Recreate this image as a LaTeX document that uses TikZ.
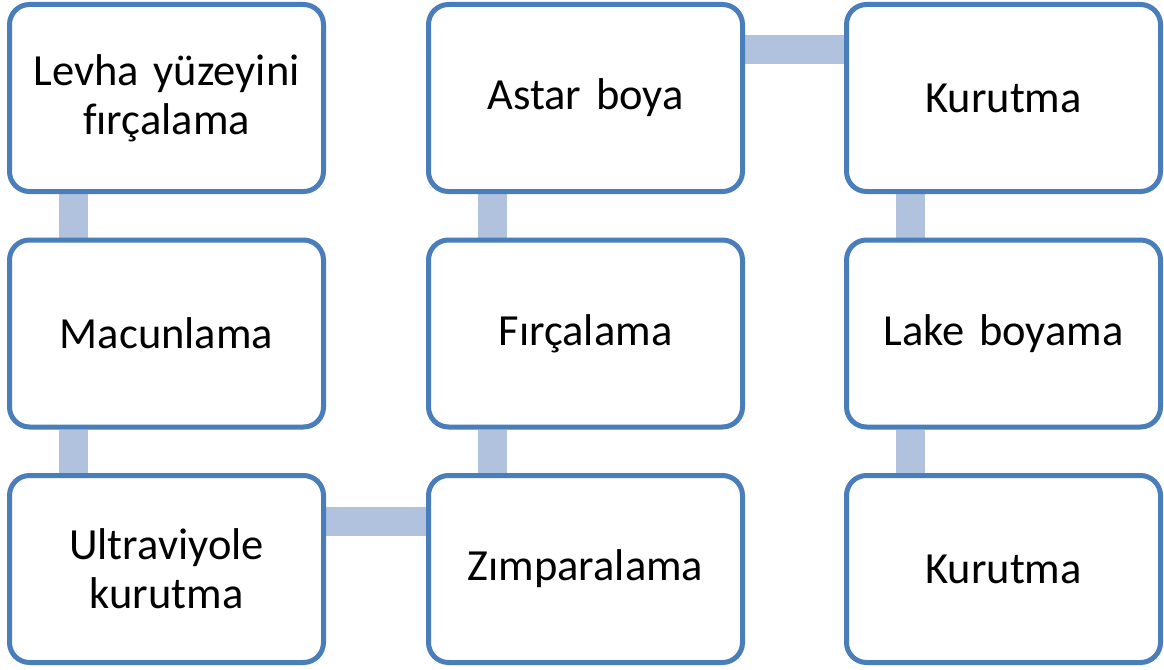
\documentclass[tikz,border=0pt]{standalone}
\usepackage{fontspec}
\setmainfont{Carlito}[Ligatures=CommonOff]
\usepackage{xcolor}
\usepackage{tikz}
\usetikzlibrary{backgrounds}
\definecolor{boxblue}{RGB}{74,126,187}
\definecolor{linkblue}{RGB}{176,194,222}

\begin{document}
\begin{tikzpicture}[x=1pt, y=-1pt,
    box/.style={draw=boxblue, fill=white, line width=5pt, rounded corners=20pt,
      minimum width=314pt, minimum height=187pt, text width=300pt, align=center,
      font=\fontsize{44.5}{49}\selectfont},
    link/.style={draw=linkblue, line width=29pt}]
    %\draw[step=100pt, gray, very thin] (0, 0) grid (1164, 669);
    \useasboundingbox (0, 0) rectangle (1164, 669);

    \node[box] (levha) at (166.5, 98) {Levha yüzeyini\\fırçalama};
    \node[box] (macun) at (166.5, 333.5) {Macunlama};
    \node[box] (ultra) at (166.5, 569) {Ultraviyole\\kurutma};

    \node[box] (zimpara) at (585.5, 569) {Zımparalama};
    \node[box] (firca) at (585.5, 333.5) {Fırçalama};
    \node[box] (astar) at (585.5, 98) {Astar boya};

    \node[box] (kurut1) at (1003.5, 98) {Kurutma};
    \node[box] (lake) at (1003.5, 333.5) {Lake boyama};
    \node[box] (kurut2) at (1003.5, 569) {Kurutma};

    \begin{scope}[on background layer]
    \draw[link] ([xshift=66.5pt]levha.south west) -- ([xshift=66.5pt]macun.north west);
    \draw[link] ([xshift=66.5pt]macun.south west) -- ([xshift=66.5pt]ultra.north west);
    \draw[link] ([yshift=-48pt]ultra.north east) -- ([yshift=-48pt]zimpara.north west);
    \draw[link] ([xshift=66.5pt]zimpara.north west) -- ([xshift=66.5pt]firca.south west);
    \draw[link] ([xshift=66.5pt]firca.north west) -- ([xshift=66.5pt]astar.south west);
    \draw[link] ([yshift=-48pt]astar.north east) -- ([yshift=-48pt]kurut1.north west);
    \draw[link] ([xshift=66.5pt]kurut1.south west) -- ([xshift=66.5pt]lake.north west);
    \draw[link] ([xshift=66.5pt]lake.south west) -- ([xshift=66.5pt]kurut2.north west);
    \end{scope}

  \end{tikzpicture}
\end{document}
